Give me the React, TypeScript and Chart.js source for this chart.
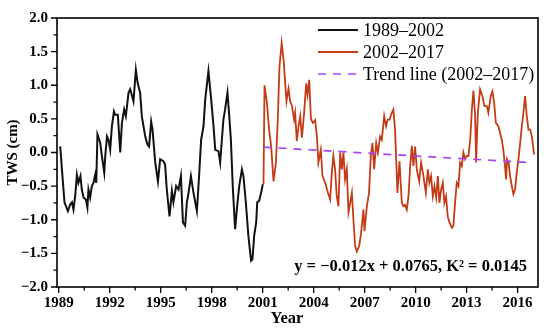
import React, { useEffect, useRef } from 'react';
import Chart from 'chart.js/auto';

// ---- data ----
const blackYears = [
  1989.09, 1989.19, 1989.34, 1989.54, 1989.68, 1989.78, 1989.87, 1989.97, 1990.07, 1990.16,
  1990.28, 1990.36, 1990.46, 1990.6, 1990.69, 1990.75, 1990.85, 1990.95, 1991.05, 1991.15,
  1991.21, 1991.28, 1991.44, 1991.54, 1991.68, 1991.74, 1991.84, 1991.93, 1992.03, 1992.13,
  1992.25, 1992.32, 1992.48, 1992.62, 1992.72, 1992.85, 1992.95, 1993.11, 1993.21, 1993.4,
  1993.54, 1993.64, 1993.79, 1993.89, 1994.09, 1994.22, 1994.32, 1994.44, 1994.52, 1994.68,
  1994.84, 1994.97, 1995.16, 1995.26, 1995.36, 1995.52, 1995.66, 1995.75, 1995.91, 1996.05,
  1996.19, 1996.31, 1996.44, 1996.54, 1996.64, 1996.78, 1996.93, 1997.13, 1997.26, 1997.38,
  1997.52, 1997.62, 1997.81, 1997.97, 1998.11, 1998.21, 1998.4, 1998.5, 1998.69, 1998.79,
  1998.93, 1999.03, 1999.13, 1999.25, 1999.38, 1999.48, 1999.62, 1999.78, 1999.87, 2000.01,
  2000.16, 2000.32, 2000.4, 2000.5, 2000.62, 2000.68, 2000.79, 2000.91, 2001.01,
];
const blackTws = [
  0.09, -0.25, -0.74, -0.87, -0.77, -0.74, -0.85, -0.65, -0.33, -0.45,
  -0.35, -0.55, -0.67, -0.7, -0.82, -0.55, -0.67, -0.5, -0.45, -0.33,
  -0.45, 0.27, 0.15, -0.05, -0.3, -0.05, 0.24, 0.19, 0.04, 0.39,
  0.61, 0.56, 0.56, 0.0, 0.44, 0.64, 0.54, 0.89, 0.94, 0.76,
  1.23, 1.04, 0.89, 0.54, 0.24, 0.12, 0.09, 0.46, 0.34, -0.15,
  -0.43, -0.1, -0.13, -0.18, -0.55, -0.95, -0.57, -0.74, -0.5, -0.55,
  -0.35, -1.04, -1.09, -0.74, -0.6, -0.35, -0.6, -0.87, -0.35, 0.19,
  0.39, 0.79, 1.21, 0.79, 0.39, 0.04, 0.02, -0.15, 0.49, 0.64,
  0.89, 0.56, 0.19, -0.55, -1.14, -0.85, -0.5, -0.25, -0.35, -0.74,
  -1.24, -1.61, -1.59, -1.24, -1.04, -0.74, -0.72, -0.6, -0.47,
];
const redYears = [
  2001.05, 2001.11, 2001.25, 2001.38, 2001.5, 2001.64, 2001.78, 2001.89, 2001.99, 2002.12,
  2002.24, 2002.4, 2002.52, 2002.62, 2002.72, 2002.85, 2002.91, 2003.01, 2003.11, 2003.21,
  2003.31, 2003.44, 2003.56, 2003.64, 2003.74, 2003.84, 2003.95, 2004.09, 2004.19, 2004.28,
  2004.42, 2004.52, 2004.68, 2004.84, 2004.97, 2005.07, 2005.16, 2005.26, 2005.36, 2005.46,
  2005.56, 2005.66, 2005.75, 2005.85, 2005.95, 2006.05, 2006.15, 2006.25, 2006.34, 2006.44,
  2006.54, 2006.68, 2006.79, 2006.93, 2006.99, 2007.13, 2007.26, 2007.36, 2007.46, 2007.56,
  2007.68, 2007.78, 2007.91, 2008.01, 2008.15, 2008.26, 2008.36, 2008.47, 2008.6, 2008.69,
  2008.79, 2008.93, 2009.05, 2009.19, 2009.28, 2009.38, 2009.48, 2009.58, 2009.68, 2009.78,
  2009.87, 2009.97, 2010.07, 2010.21, 2010.32, 2010.46, 2010.6, 2010.72, 2010.81, 2010.91,
  2011.01, 2011.11, 2011.21, 2011.31, 2011.4, 2011.5, 2011.6, 2011.69, 2011.79, 2011.89,
  2011.99, 2012.13, 2012.22, 2012.32, 2012.42, 2012.52, 2012.62, 2012.72, 2012.81, 2012.91,
  2013.01, 2013.11, 2013.21, 2013.31, 2013.4, 2013.5, 2013.56, 2013.66, 2013.79, 2013.93,
  2014.05, 2014.19, 2014.28, 2014.42, 2014.52, 2014.62, 2014.72, 2014.87, 2014.97, 2015.07,
  2015.16, 2015.26, 2015.32, 2015.38, 2015.47, 2015.56, 2015.66, 2015.75, 2015.85, 2015.95,
  2016.05, 2016.15, 2016.25, 2016.34, 2016.44, 2016.54, 2016.64, 2016.74, 2016.84, 2016.97,
];
const redTws = [
  -0.47, 1.0, 0.74, 0.34, 0.09, -0.43, -0.15, 0.49, 1.28, 1.63,
  1.35, 0.76, 0.95, 0.76, 0.7, 0.49, 0.59, 0.17, 0.39, 0.54,
  0.22, 0.59, 1.03, 0.86, 1.08, 0.5, 0.44, 0.48, 0.24, -0.15,
  0.04, -0.35, -0.45, -0.6, -0.7, -0.3, -0.05, -0.25, -0.65, -0.8,
  0.0, -0.25, 0.0, -0.4, -0.25, -0.89, -0.75, -0.6, -1.0, -1.39,
  -1.47, -1.39, -1.2, -0.85, -1.17, -0.8, -0.6, -0.05, 0.14, -0.25,
  0.14, 0.0, 0.24, 0.19, 0.54, 0.39, 0.49, 0.49, 0.59, 0.64,
  0.34, -0.6, -0.13, -0.75, -0.8, -0.78, -0.85, -0.65, -0.2, 0.1,
  -0.2, 0.09, -0.25, -0.43, -0.15, -0.35, -0.6, -0.25, -0.45, -0.35,
  -0.65, -0.5, -0.67, -0.35, -0.75, -0.55, -0.45, -0.75, -0.65, -0.95,
  -1.04, -1.12, -1.09, -0.75, -0.45, -0.5, -0.15, -0.2, 0.0, -0.1,
  -0.05, -0.05, 0.19, 0.64, 0.92, 0.55, -0.15, 0.59, 0.94, 0.84,
  0.69, 0.69, 0.59, 0.84, 0.91, 0.74, 0.44, 0.39, 0.29, 0.19,
  0.04, -0.2, -0.4, -0.1, -0.15, -0.35, -0.5, -0.62, -0.55, -0.3,
  -0.1, 0.14, 0.39, 0.59, 0.84, 0.54, 0.34, 0.34, 0.24, -0.03,
];
const trendYears = [2001.05, 2016.75];
const trendTws = [0.08, -0.15];

const xTickYears = [1989, 1992, 1995, 1998, 2001, 2004, 2007, 2010, 2013, 2016];
const yTickValues = [-2, -1.5, -1, -0.5, 0, 0.5, 1, 1.5, 2];
const seriesLabels = ['1989\u20132002', '2002\u20132017', 'Trend line (2002\u20132017)'];
const equationText = 'y = \u22120.012x + 0.0765, K\u00b2 = 0.0145';
const xTitle = 'Year';
const yTitle = 'TWS (cm)';

const SERIF = "'Liberation Serif', 'Times New Roman', serif";
const BLACK = '#111111';
const RED = '#c43c16';
const TREND = '#a645f5';

const toPoints = (xs: number[], ys: number[]) => xs.map((x, i) => ({ x, y: ys[i] }));

const decorPlugin = {
  id: 'decor',
  afterDatasetsDraw(chart: any) {
    const { ctx, chartArea, scales } = chart;
    const { left, top, right, bottom } = chartArea;
    const xs = scales.x;
    const ys = scales.y;
    ctx.save();
    // frame
    ctx.strokeStyle = '#000';
    ctx.lineWidth = 1.6;
    ctx.strokeRect(left, top, right - left, bottom - top);
    // ticks
    ctx.lineWidth = 1.3;
    ctx.beginPath();
    xTickYears.forEach((v, i) => {
      const px = xs.getPixelForValue(v);
      ctx.moveTo(px, bottom);
      ctx.lineTo(px, bottom + 6);
      const mid = i < xTickYears.length - 1 ? (v + xTickYears[i + 1]) / 2 : v + (v - xTickYears[i - 1]) / 2;
      if (mid < xs.max) {
        const pm = xs.getPixelForValue(mid);
        ctx.moveTo(pm, bottom);
        ctx.lineTo(pm, bottom + 3.5);
      }
    });
    yTickValues.forEach((v, i) => {
      const py = ys.getPixelForValue(v);
      ctx.moveTo(left, py);
      ctx.lineTo(left - 6, py);
      if (i < yTickValues.length - 1) {
        const pm = ys.getPixelForValue((v + yTickValues[i + 1]) / 2);
        ctx.moveTo(left, pm);
        ctx.lineTo(left - 3.5, pm);
      }
    });
    ctx.stroke();

    // legend
    const colors = [BLACK, RED, TREND];
    ctx.font = `18px ${SERIF}`;
    ctx.textBaseline = 'middle';
    ctx.textAlign = 'left';
    seriesLabels.forEach((lab, i) => {
      const yy = top + 12 + i * 22;
      ctx.beginPath();
      ctx.strokeStyle = colors[i];
      ctx.lineWidth = i === 2 ? 1.7 : 2;
      ctx.setLineDash(i === 2 ? [8, 7] : []);
      ctx.moveTo(right - 220, yy);
      ctx.lineTo(right - 180, yy);
      ctx.stroke();
      ctx.setLineDash([]);
      ctx.fillStyle = '#000';
      ctx.fillText(lab, right - 175, yy + 1);
    });

    // equation
    ctx.font = `bold 16.5px ${SERIF}`;
    ctx.textAlign = 'right';
    ctx.fillText(equationText, right - 11, bottom - 20);

    // x title
    ctx.font = `bold 16.5px ${SERIF}`;
    ctx.textAlign = 'center';
    ctx.fillText(xTitle, left + (right - left) * 0.478, bottom + 32);
    ctx.restore();
  },
};

export default function App() {
  const ref = useRef<HTMLCanvasElement | null>(null);
  useEffect(() => {
    if (!ref.current) return;
    const chart = new Chart(ref.current, {
      type: 'line',
      data: {
        datasets: [
          {
            label: seriesLabels[2],
            data: toPoints(trendYears, trendTws),
            borderColor: TREND,
            borderWidth: 1.7,
            borderDash: [8, 7],
            pointRadius: 0,
            order: 0,
          },
          {
            label: seriesLabels[1],
            data: toPoints(redYears, redTws),
            borderColor: RED,
            borderWidth: 1.8,
            pointRadius: 0,
            tension: 0,
            order: 1,
          },
          {
            label: seriesLabels[0],
            data: toPoints(blackYears, blackTws),
            borderColor: BLACK,
            borderWidth: 2,
            pointRadius: 0,
            tension: 0,
            order: 2,
          },
        ],
      },
      options: {
        animation: false,
        responsive: false,
        devicePixelRatio: 1,
        layout: { padding: { top: 18, right: 12, left: 0, bottom: 0 } },
        plugins: { legend: { display: false }, tooltip: { enabled: false } },
        scales: {
          x: {
            type: 'linear',
            min: 1988.9,
            max: 2017.2,
            grid: { display: false, drawTicks: false },
            border: { display: false },
            afterBuildTicks: (s: any) => {
              s.ticks = xTickYears.map((v) => ({ value: v }));
            },
            afterFit: (s: any) => {
              s.height = 45;
            },
            ticks: {
              padding: 7,
              maxRotation: 0,
              autoSkip: false,
              color: '#000',
              font: { family: SERIF, size: 15, weight: 'bold' },
              callback: (v: any) => String(v),
            },
          },
          y: {
            min: -2,
            max: 2,
            grid: { display: false, drawTicks: false },
            border: { display: false },
            afterBuildTicks: (s: any) => {
              s.ticks = yTickValues.map((v) => ({ value: v }));
            },
            afterFit: (s: any) => {
              s.width = 57;
            },
            ticks: {
              padding: 9,
              color: '#000',
              font: { family: SERIF, size: 15, weight: 'bold' },
              callback: (v: any) => (v < 0 ? '\u2212' : '') + Math.abs(Number(v)).toFixed(1),
            },
            title: {
              display: true,
              text: yTitle,
              color: '#000',
              padding: { top: 4, bottom: 2 },
              font: { family: SERIF, size: 15, weight: 'bold' },
            },
          },
        },
      },
      plugins: [decorPlugin],
    });
    return () => chart.destroy();
  }, []);
  return (
    <div style={{ position: 'fixed', left: 0, top: 0, width: 550, height: 332, background: '#fff' }}>
      <canvas ref={ref} width={550} height={332} />
    </div>
  );
}
